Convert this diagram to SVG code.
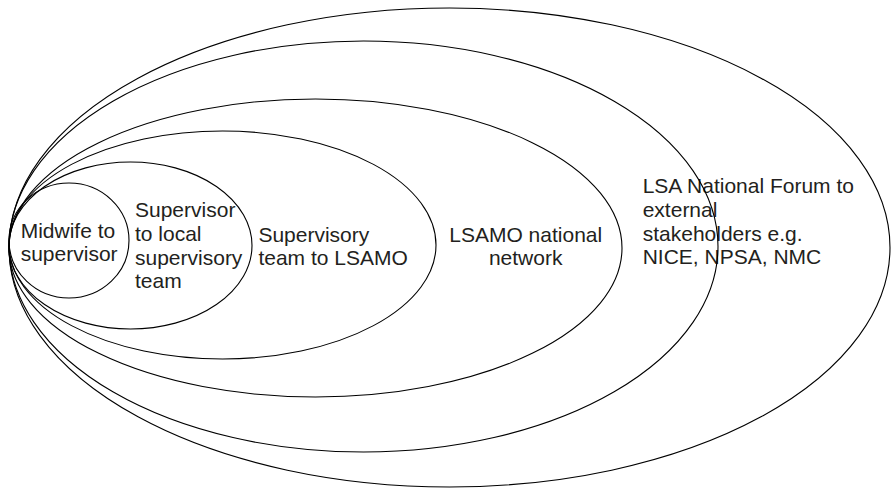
<svg xmlns="http://www.w3.org/2000/svg" width="893" height="488" viewBox="0 0 893 488">
<style>
  .ring { fill: none; stroke: #000; stroke-width: 1.1; }
  .lbl { font-family: "Liberation Sans", Arial, sans-serif; font-size: 21px; fill: #231f20; }
</style>
<rect width="893" height="488" fill="#fff"/>
<g id="n6"><ellipse class="ring" cx="449.5" cy="247.5" rx="440.5" ry="239.5"/>
  <text class="lbl" x="642.7"><tspan x="642.7" y="193.3">LSA National Forum to</tspan><tspan x="642.7" y="216.9">external</tspan><tspan x="642.7" y="240.5">stakeholders e.g.</tspan><tspan x="642.7" y="264.2">NICE, NPSA, NMC</tspan></text></g>
<g id="n5"><ellipse class="ring" cx="363.5" cy="246.5" rx="354.5" ry="205.5"/></g>
<g id="n4"><ellipse class="ring" cx="315.5" cy="248" rx="306.5" ry="149"/>
  <text class="lbl" text-anchor="middle"><tspan x="525.7" y="241.7">LSAMO national</tspan><tspan x="525.7" y="264.5">network</tspan></text></g>
<g id="n3"><ellipse class="ring" cx="222.5" cy="245" rx="213.5" ry="114"/>
  <text class="lbl"><tspan x="258.4" y="241.5">Supervisory</tspan><tspan x="258.4" y="264.5">team to LSAMO</tspan></text></g>
<g id="n2"><ellipse class="ring" cx="130.5" cy="245.5" rx="121.5" ry="83.5"/>
  <text class="lbl"><tspan x="135" y="216.7">Supervisor</tspan><tspan x="135" y="240.6">to local</tspan><tspan x="135" y="264.6">supervisory</tspan><tspan x="135" y="288.3">team</tspan></text></g>
<g id="n1"><ellipse class="ring" cx="69" cy="240.5" rx="60" ry="57.5"/>
  <text class="lbl"><tspan x="20.7" y="237.5">Midwife to</tspan><tspan x="20.7" y="261">supervisor</tspan></text></g>
<g id="connectors"></g>
</svg>
